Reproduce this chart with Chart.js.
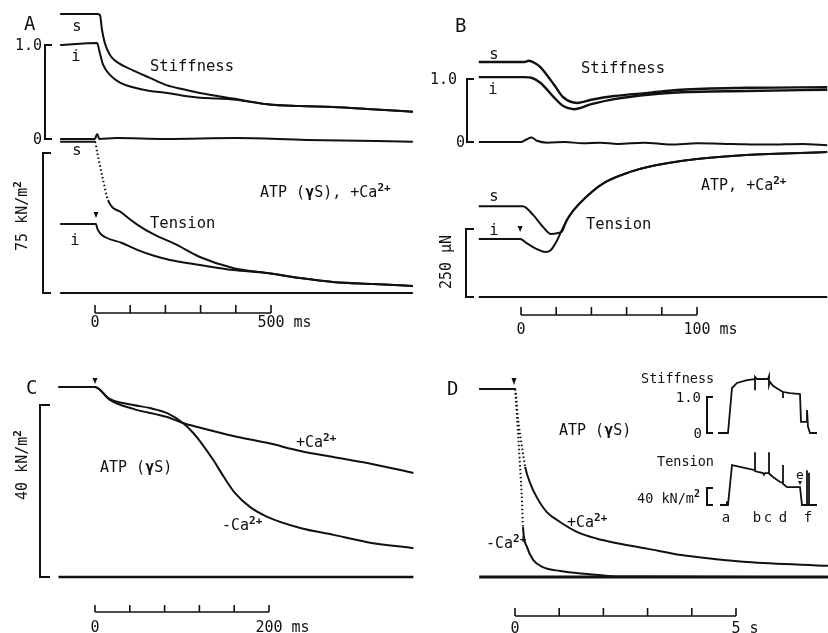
<!DOCTYPE html>
<html>
<head>
<meta charset="utf-8">
<script src="https://cdn.jsdelivr.net/npm/chart.js@4.4.1/dist/chart.umd.min.js"></script>
<style>
  html, body { margin: 0; background: #fff; }
  #wrap { position: relative; width: 828px; height: 633px; }
</style>
</head>
<body>
<div id="wrap"><canvas id="fig"></canvas></div>
<script>
// ---- panel A: ATP(gS) +Ca, time in ms ----
const aStiffS_t = [-99, 6, 14, 20, 28, 43, 62, 108, 156, 205, 250, 298, 392, 489, 582, 676, 773, 903];
const aStiffS   = [1.33, 1.33, 1.32, 1.16, 1.02, 0.89, 0.82, 0.73, 0.65, 0.57, 0.53, 0.49, 0.43, 0.37, 0.35, 0.34, 0.32, 0.29];
const aStiffI_t = [-99, 6, 14, 23, 43, 71, 108, 156, 205, 250, 298, 346, 392, 489, 582, 676, 773, 903];
const aStiffI   = [1.00, 1.02, 0.91, 0.79, 0.68, 0.60, 0.55, 0.51, 0.49, 0.46, 0.44, 0.43, 0.42, 0.37, 0.35, 0.34, 0.32, 0.29];
const aZero_t   = [-99, 0, 4, 7, 12, 60, 200, 400, 600, 800, 903];
const aZero     = [0, 0, 0.04, 0.05, 0, 0.01, 0, 0.01, -0.01, -0.02, -0.03];
const aTensS_t  = [-99, 0, 6, 23, 37, 77, 122, 170, 227, 298, 392, 489, 582, 676, 790, 903];
const aTensS    = [81, 81, 75.5, 60.5, 49.8, 42.9, 36.4, 31.1, 26.3, 19.3, 13.4, 10.7, 8.0, 5.9, 4.8, 3.75];
const aTensI_t  = [-99, 3, 6, 14, 28, 77, 122, 170, 213, 298, 392, 489, 582, 676, 790, 903];
const aTensI    = [37, 37, 34.8, 32.1, 30.0, 26.8, 23.0, 19.8, 17.7, 15.0, 12.3, 10.7, 8.0, 5.9, 4.8, 3.75];
const aBase_t   = [-99, 903];
const aBase     = [0, 0];

// ---- panel B: ATP +Ca, time in ms, tension in uN ----
const bStiffS_t = [-24, 2, 4.5, 8, 11, 19, 24, 32, 40, 53, 72, 91, 128, 174];
const bStiffS   = [1.27, 1.27, 1.29, 1.25, 1.19, 0.90, 0.71, 0.62, 0.67, 0.73, 0.78, 0.83, 0.86, 0.87];
const bStiffI_t = [-24, 2, 6, 11, 19, 24, 30, 40, 53, 72, 91, 128, 174];
const bStiffI   = [1.03, 1.03, 1.02, 0.94, 0.70, 0.57, 0.52, 0.60, 0.68, 0.75, 0.79, 0.81, 0.83];
const bZero_t   = [-24, 0, 3, 6, 9, 15, 25, 35, 45, 55, 70, 85, 100, 120, 140, 160, 174];
const bZero     = [0, 0, 0.04, 0.07, 0.02, -0.01, 0, -0.02, -0.01, -0.03, -0.01, -0.04, -0.02, -0.03, -0.04, -0.03, -0.05];
const bTensS_t  = [-24, 1, 7, 13, 17, 23, 26, 30, 37, 47, 62, 72, 100, 128, 174];
const bTensS    = [334, 334, 301, 254, 232, 239, 283, 320, 368, 419, 460, 478, 507, 522, 533];
const bTensI_t  = [-24, -0.5, 3, 9, 14, 17, 20, 24, 27, 30, 37, 47, 62, 72, 100, 128, 174];
const bTensI    = [213, 213, 199, 176, 165, 173, 202, 257, 292, 320, 368, 419, 460, 478, 507, 522, 533];
const bBase_t   = [-24, 174];
const bBase     = [0, 0];

// ---- panel C: ATP(gS), time in ms, kN/m2 ----
const cPlus_t   = [-42, 0, 17, 44, 83, 101, 121, 159, 198, 236, 274, 313, 366];
const cPlus     = [44.2, 44.2, 41.2, 39.1, 37.2, 35.8, 34.7, 32.8, 31.2, 29.3, 27.9, 26.5, 24.2];
const cMinus_t  = [-42, 0, 17, 44, 63, 83, 101, 113, 121, 136, 148, 161, 178, 198, 236, 274, 313, 366];
const cMinus    = [44.2, 44.2, 41.4, 40.0, 39.3, 38.1, 35.8, 33.5, 31.5, 27.2, 23.3, 19.5, 16.3, 14.0, 11.4, 9.8, 8.1, 6.7];
const cBase_t   = [-42, 366];
const cBase     = [0, 0];

// ---- panel D: ATP(gS), time in s ----
const dPlus_t   = [-0.81, 0, 0.07, 0.16, 0.23, 0.34, 0.50, 0.72, 1.02, 1.40, 1.86, 2.15, 2.99, 3.76, 4.50, 5.25, 7.08];
const dPlus     = [43.7, 43.7, 36.5, 30.2, 25.6, 21.9, 18.4, 15.1, 12.8, 10.5, 8.9, 8.2, 6.6, 5.1, 4.2, 3.5, 2.6];
const dMinus_t  = [-0.81, 0, 0.02, 0.11, 0.16, 0.18, 0.27, 0.41, 0.63, 1.02, 1.63, 2.2, 3.0, 7.08];
const dMinus    = [43.7, 43.7, 41.2, 26.5, 17.2, 11.6, 7.0, 4.0, 2.3, 1.4, 0.7, 0.2, 0.1, 0];
const dBase_t   = [-0.81, 7.08];
const dBase     = [0, 0];

// ---- panel D inset (arbitrary time units, a..f) ----
const insStiff_u = [1, 11, 15, 20, 30, 38, 38, 38, 40, 51, 52, 52, 53, 56, 61, 66, 66, 66, 73, 83, 84, 88, 90, 90, 91, 93, 100];
const insStiff   = [0, 0, 1.25, 1.39, 1.47, 1.50, 1.19, 1.56, 1.50, 1.50, 1.58, 1.33, 1.42, 1.31, 1.22, 1.14, 0.97, 1.14, 1.11, 1.08, 0.31, 0.31, 0.31, 0.64, 0.17, 0, 0];
const insTens_u  = [3, 10, 10, 10, 11, 15, 38, 38, 38, 41, 46, 47, 48, 52, 52, 52, 56, 63, 66, 66, 66, 70, 83, 85, 90, 90, 90, 92, 92, 92, 100];
const insTens    = [0, 0, 9, 0, 0, 94, 82, 124, 80, 78, 75, 71, 75, 75, 124, 74, 66, 54, 52, 94, 50, 42, 42, 0, 0, 82, 0, 0, 76, 0, 0];
const insLetters = ['a', 'b', 'c', 'd', 'f'];
const insLetter_u = [9, 40, 51, 66, 91];

const W = 828, H = 633;
const INK = '#111';
const FONT = '"DejaVu Sans Mono", monospace';

// linear scale whose pixel p0 shows v0 and p1 shows v1 over the whole canvas
function xLin(p0, v0, p1, v1) {
  const k = (v1 - v0) / (p1 - p0);
  return { type: 'linear', axis: 'x', display: false, min: v0 - p0 * k, max: v0 + (W - p0) * k };
}
function yLin(p0, v0, p1, v1) {
  const k = (v1 - v0) / (p1 - p0);
  return { type: 'linear', axis: 'y', display: false, min: v0 + (H - p0) * k, max: v0 - p0 * k };
}

function trace(xs, ys, xAxisID, yAxisID, extra) {
  return Object.assign({
    data: xs.map((x, i) => ({ x: x, y: ys[i] })),
    xAxisID: xAxisID, yAxisID: yAxisID,
    showLine: true, borderColor: INK, borderWidth: 2, pointRadius: 0,
    cubicInterpolationMode: 'monotone', fill: false
  }, extra || {});
}
const dotted = limit => ({ borderDash: c => (c.p0.parsed.x >= 0 && c.p1.parsed.x <= limit) ? [1.5, 2.5] : undefined });
const sharp = { cubicInterpolationMode: 'default', tension: 0, borderWidth: 1.8 };

// ---- drawing helpers for labels, brackets and time bars ----
function rich(ctx, parts, x, cy, size, align) {
  const fonts = parts.map(p => p[1] === 'sup' ? `bold ${Math.round(size * 0.72)}px ${FONT}`
                           : p[1] === 'bold' ? `bold ${size}px ${FONT}` : `${size}px ${FONT}`);
  const widths = parts.map((p, i) => { ctx.font = fonts[i]; return ctx.measureText(p[0]).width; });
  const total = widths.reduce((a, b) => a + b, 0);
  let cx = align === 'center' ? x - total / 2 : align === 'right' ? x - total : x;
  const base = cy + size * 0.36;
  ctx.textAlign = 'left';
  ctx.textBaseline = 'alphabetic';
  parts.forEach((p, i) => {
    ctx.font = fonts[i];
    ctx.fillText(p[0], cx, p[1] === 'sup' ? base - size * 0.42 : base);
    cx += widths[i] - (p[1] === 'sup' ? 0 : 0);
  });
}
function txt(ctx, s, x, cy, size, align) { rich(ctx, [[s, '']], x, cy, size, align); }
function vtxt(ctx, parts, x, cy, size) {
  ctx.save(); ctx.translate(x, cy); ctx.rotate(-Math.PI / 2);
  rich(ctx, parts, 0, 0, size, 'center'); ctx.restore();
}
function bracket(ctx, x, yTop, yBot, tick) {
  ctx.beginPath();
  ctx.moveTo(x + tick, yTop); ctx.lineTo(x, yTop); ctx.lineTo(x, yBot); ctx.lineTo(x + tick, yBot);
  ctx.stroke();
}
function timeBar(ctx, scale, from, to, step, y, h) {
  ctx.beginPath();
  ctx.moveTo(scale.getPixelForValue(from), y); ctx.lineTo(scale.getPixelForValue(to), y);
  for (let v = from; v <= to + 1e-9; v += step) {
    const px = scale.getPixelForValue(v);
    ctx.moveTo(px, y); ctx.lineTo(px, y - h);
  }
  ctx.stroke();
}
function marker(ctx, x, y, w, h) {
  ctx.beginPath();
  ctx.moveTo(x - w / 2, y - h); ctx.lineTo(x + w / 2, y - h); ctx.lineTo(x, y); ctx.closePath();
  ctx.fill();
}
function endLabel(ctx, value, unit, x, cy, size) {
  ctx.font = `${size}px ${FONT}`;
  const w = ctx.measureText(value).width;
  txt(ctx, value + unit, x - w / 2, cy, size, 'left');
}

const CA_PLUS = [['+Ca', ''], ['2+', 'sup']];
const CA_MINUS = [['-Ca', ''], ['2+', 'sup']];
const ATP_GS = [['ATP (', ''], ['\u03b3', 'bold'], ['S)', '']];
const KNM2 = n => [[n + ' kN/m', ''], ['2', 'sup']];

const figurePlugin = {
  id: 'figure',
  afterDraw(chart) {
    const ctx = chart.ctx, s = chart.scales;
    ctx.save();
    ctx.fillStyle = INK; ctx.strokeStyle = INK; ctx.lineWidth = 2; ctx.lineCap = 'butt';

    // brackets
    bracket(ctx, 45, s.yAs.getPixelForValue(1), s.yAs.getPixelForValue(0), 7);
    bracket(ctx, 43, s.yAt.getPixelForValue(75), s.yAt.getPixelForValue(0), 8);
    bracket(ctx, 467, s.yBs.getPixelForValue(1), s.yBs.getPixelForValue(0), 7);
    bracket(ctx, 466, s.yBt.getPixelForValue(250), s.yBt.getPixelForValue(0), 8);
    bracket(ctx, 40, s.yC.getPixelForValue(40), s.yC.getPixelForValue(0), 10);
    bracket(ctx, 707, s.yIs.getPixelForValue(1), s.yIs.getPixelForValue(0), 6);
    bracket(ctx, 707, s.yIt.getPixelForValue(40), s.yIt.getPixelForValue(0), 6);

    // time scale bars
    ctx.lineWidth = 1.6;
    timeBar(ctx, s.xA, 0, 500, 100, 313, 8);
    timeBar(ctx, s.xB, 0, 100, 20, 315, 8);
    timeBar(ctx, s.xC, 0, 200, 40, 612, 7);
    timeBar(ctx, s.xD, 0, 5, 1, 616, 8);

    // stimulus markers
    marker(ctx, s.xA.getPixelForValue(0) + 1, s.yAt.getPixelForValue(37) - 6, 5, 6);
    marker(ctx, s.xB.getPixelForValue(-0.5), s.yBt.getPixelForValue(213) - 7, 5, 6);
    marker(ctx, s.xC.getPixelForValue(0), s.yC.getPixelForValue(44.2) - 3, 5, 6);
    marker(ctx, s.xD.getPixelForValue(0) - 1, s.yD.getPixelForValue(43.7) - 4, 5, 7);
    marker(ctx, s.xI.getPixelForValue(83), 485, 4, 4);

    // panel A
    txt(ctx, 'A', 24, 23, 19);
    txt(ctx, 's', 77, 25, 15.5, 'center');
    txt(ctx, 'i', 76, 55, 15.5, 'center');
    txt(ctx, 'Stiffness', 150, 65, 15.5);
    txt(ctx, '1.0', 42, 45, 15, 'right');
    txt(ctx, '0', 42, 139, 15, 'right');
    txt(ctx, 's', 77, 149, 15.5, 'center');
    txt(ctx, 'i', 75, 239, 15.5, 'center');
    txt(ctx, 'Tension', 150, 222, 15.5);
    rich(ctx, ATP_GS.concat([[', ', '']], CA_PLUS), 260, 192, 15);
    vtxt(ctx, KNM2('75'), 22, 216, 15);
    txt(ctx, '0', s.xA.getPixelForValue(0), 322, 15, 'center');
    endLabel(ctx, '500', ' ms', s.xA.getPixelForValue(500), 322, 15);

    // panel B
    txt(ctx, 'B', 455, 25, 19);
    txt(ctx, 's', 494, 53, 15.5, 'center');
    txt(ctx, 'i', 493, 88, 15.5, 'center');
    txt(ctx, 'Stiffness', 581, 67, 15.5);
    txt(ctx, '1.0', 457, 79, 15, 'right');
    txt(ctx, '0', 465, 142, 15, 'right');
    txt(ctx, 's', 494, 195, 15.5, 'center');
    txt(ctx, 'i', 494, 229, 15.5, 'center');
    txt(ctx, 'Tension', 586, 223, 15.5);
    rich(ctx, [['ATP, ', '']].concat(CA_PLUS), 701, 185, 15);
    vtxt(ctx, [['250 \u03bcN', '']], 446, 262, 15);
    txt(ctx, '0', s.xB.getPixelForValue(0), 329, 15, 'center');
    endLabel(ctx, '100', ' ms', s.xB.getPixelForValue(100), 329, 15);

    // panel C
    txt(ctx, 'C', 26, 387, 19);
    vtxt(ctx, KNM2('40'), 22, 465, 15);
    rich(ctx, ATP_GS, 100, 467, 15);
    rich(ctx, CA_PLUS, 296, 442, 15);
    rich(ctx, CA_MINUS, 222, 525, 15);
    txt(ctx, '0', s.xC.getPixelForValue(0), 627, 15, 'center');
    endLabel(ctx, '200', ' ms', s.xC.getPixelForValue(200), 627, 15);

    // panel D
    txt(ctx, 'D', 447, 388, 19);
    rich(ctx, ATP_GS, 559, 430, 15);
    rich(ctx, CA_PLUS, 567, 522, 15);
    rich(ctx, CA_MINUS, 486, 543, 15);
    txt(ctx, '0', s.xD.getPixelForValue(0), 628, 15, 'center');
    endLabel(ctx, '5', ' s', s.xD.getPixelForValue(5), 628, 15);

    // inset
    txt(ctx, 'Stiffness', 641, 378, 13.5);
    txt(ctx, '1.0', 701, 397, 14, 'right');
    txt(ctx, '0', 702, 433, 14, 'right');
    txt(ctx, 'Tension', 657, 461, 13.5);
    rich(ctx, KNM2('40'), 637, 498, 13.5);
    insLetters.forEach((l, i) => txt(ctx, l, s.xI.getPixelForValue(insLetter_u[i]), 517, 14, 'center'));
    txt(ctx, 'e', s.xI.getPixelForValue(83), 474, 13, 'center');

    ctx.restore();
  }
};

new Chart(document.getElementById('fig'), {
  type: 'scatter',
  data: {
    datasets: [
      trace(aStiffS_t, aStiffS, 'xA', 'yAs'),
      trace(aStiffI_t, aStiffI, 'xA', 'yAs'),
      trace(aZero_t, aZero, 'xA', 'yAs'),
      trace(aTensS_t, aTensS, 'xA', 'yAt', { segment: dotted(37) }),
      trace(aTensI_t, aTensI, 'xA', 'yAt'),
      trace(aBase_t, aBase, 'xA', 'yAt'),
      trace(bStiffS_t, bStiffS, 'xB', 'yBs', { borderWidth: 2.4 }),
      trace(bStiffI_t, bStiffI, 'xB', 'yBs', { borderWidth: 2.4 }),
      trace(bZero_t, bZero, 'xB', 'yBs'),
      trace(bTensS_t, bTensS, 'xB', 'yBt'),
      trace(bTensI_t, bTensI, 'xB', 'yBt'),
      trace(bBase_t, bBase, 'xB', 'yBt'),
      trace(cPlus_t, cPlus, 'xC', 'yC'),
      trace(cMinus_t, cMinus, 'xC', 'yC'),
      trace(cBase_t, cBase, 'xC', 'yC', { borderWidth: 2.4 }),
      trace(dPlus_t, dPlus, 'xD', 'yD', { segment: dotted(0.23) }),
      trace(dMinus_t, dMinus, 'xD', 'yD', { segment: dotted(0.18) }),
      trace(dBase_t, dBase, 'xD', 'yD', { borderWidth: 3 }),
      trace(insStiff_u, insStiff, 'xI', 'yIs', sharp),
      trace(insTens_u, insTens, 'xI', 'yIt', sharp)
    ]
  },
  options: {
    responsive: true,
    maintainAspectRatio: false,
    animation: false,
    layout: { padding: 0 },
    plugins: { legend: { display: false }, tooltip: { enabled: false } },
    scales: {
      xA: xLin(95, 0, 271, 500),
      yAs: yLin(139, 0, 45, 1),
      yAt: yLin(293, 0, 153, 75),
      xB: xLin(521, 0, 697, 100),
      yBs: yLin(142, 0, 79, 1),
      yBt: yLin(297, 0, 229, 250),
      xC: xLin(95, 0, 269, 200),
      yC: yLin(577, 0, 405, 40),
      xD: xLin(515, 0, 736, 5),
      yD: yLin(577, 0, 405, 40),
      xI: xLin(717, 0, 817, 100),
      yIs: yLin(433, 0, 397, 1),
      yIt: yLin(505, 0, 488, 40)
    }
  },
  plugins: [figurePlugin]
});
</script>
</body>
</html>
